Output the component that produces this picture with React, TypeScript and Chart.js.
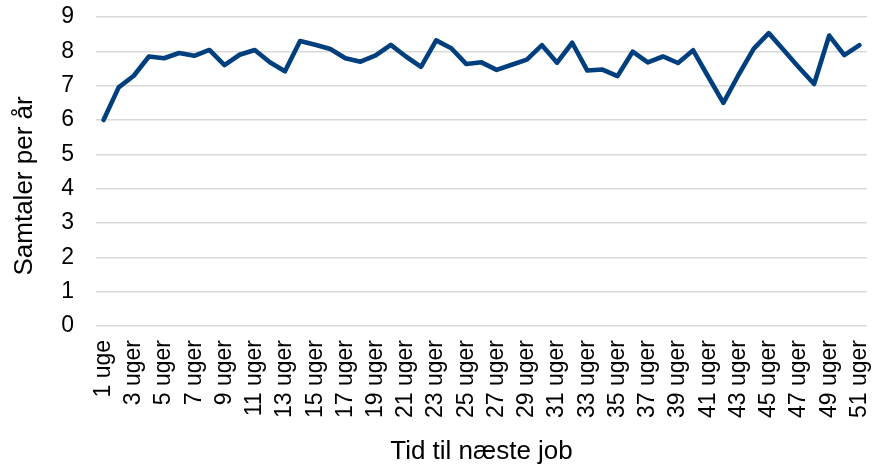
import React, { useEffect, useRef } from "react";
import { Chart, registerables } from "chart.js";

Chart.register(...registerables);

const categories: string[] = [
  "1 uge", "2 uger", "3 uger", "4 uger", "5 uger", "6 uger", "7 uger", "8 uger", "9 uger", "10 uger",
  "11 uger", "12 uger", "13 uger", "14 uger", "15 uger", "16 uger", "17 uger", "18 uger", "19 uger", "20 uger",
  "21 uger", "22 uger", "23 uger", "24 uger", "25 uger", "26 uger", "27 uger", "28 uger", "29 uger", "30 uger",
  "31 uger", "32 uger", "33 uger", "34 uger", "35 uger", "36 uger", "37 uger", "38 uger", "39 uger", "40 uger",
  "41 uger", "42 uger", "43 uger", "44 uger", "45 uger", "46 uger", "47 uger", "48 uger", "49 uger", "50 uger",
  "51 uger",
];

const samtaler: number[] = [
  6.0, 6.95, 7.29, 7.85, 7.8, 7.95, 7.87, 8.04, 7.6, 7.9,
  8.04, 7.68, 7.42, 8.3, 8.19, 8.07, 7.8, 7.7, 7.88, 8.19,
  7.85, 7.55, 8.32, 8.09, 7.63, 7.68, 7.46, 7.61, 7.76, 8.18,
  7.67, 8.25, 7.44, 7.47, 7.28, 7.99, 7.68, 7.85, 7.66, 8.03,
  7.26, 6.5, 7.31, 8.07, 8.53, 8.03, 7.53, 7.05, 8.46, 7.89,
  8.18,
];

// trailing no-break spaces shift the rotated title slightly below the plot centre, as in the original
const yTitle = "Samtaler per år\u00a0\u00a0\u00a0\u00a0";
const xTitle = "Tid til næste job";

const FONT = "'Liberation Sans', Arial, sans-serif";

export default function App() {
  const ref = useRef<HTMLCanvasElement | null>(null);

  useEffect(() => {
    if (!ref.current) return;
    const chart = new Chart(ref.current, {
      type: "line",
      data: {
        labels: categories,
        datasets: [
          {
            data: samtaler,
            borderColor: "#003f7d",
            borderWidth: 4.6,
            pointRadius: 0,
            tension: 0,
            borderJoinStyle: "round",
            borderCapStyle: "round",
            fill: false,
          },
        ],
      },
      options: {
        animation: false,
        responsive: true,
        maintainAspectRatio: false,
        layout: { padding: { top: 17, right: 6, bottom: 0, left: 0 } },
        plugins: { legend: { display: false }, tooltip: { enabled: false } },
        scales: {
          x: {
            offset: true,
            grid: { display: false, drawTicks: false },
            border: { display: false },
            ticks: {
              autoSkip: false,
              maxRotation: 90,
              minRotation: 90,
              padding: 14,
              color: "#000",
              font: { family: FONT, size: 23 },
              callback: (_v: any, i: number) => (i % 2 === 0 ? categories[i] : ""),
            },
            title: {
              display: true,
              text: xTitle,
              color: "#000",
              font: { family: FONT, size: 26, lineHeight: 1.1 },
              padding: { top: 0, bottom: 0 },
            },
            afterFit: (s: any) => {
              s.height = 140;
              s.paddingLeft = 0;
              s.paddingRight = 0;
            },
          },
          y: {
            min: 0,
            max: 9,
            grid: { color: "#d9d9d9", lineWidth: 1.5, drawTicks: false },
            border: { display: false },
            ticks: {
              stepSize: 1,
              padding: 22,
              color: "#000",
              font: { family: FONT, size: 23 },
            },
            title: {
              display: true,
              text: yTitle,
              color: "#000",
              font: { family: FONT, size: 26, lineHeight: 1.2 },
              padding: { top: 9, bottom: 0 },
            },
            afterFit: (s: any) => {
              s.width = 96;
              s.paddingTop = 0;
              s.paddingBottom = 0;
            },
          },
        },
      },
    });
    return () => chart.destroy();
  }, []);

  return (
    <div style={{ position: "fixed", left: 0, top: 0, width: 873, height: 466 }}>
      <canvas ref={ref} />
    </div>
  );
}
